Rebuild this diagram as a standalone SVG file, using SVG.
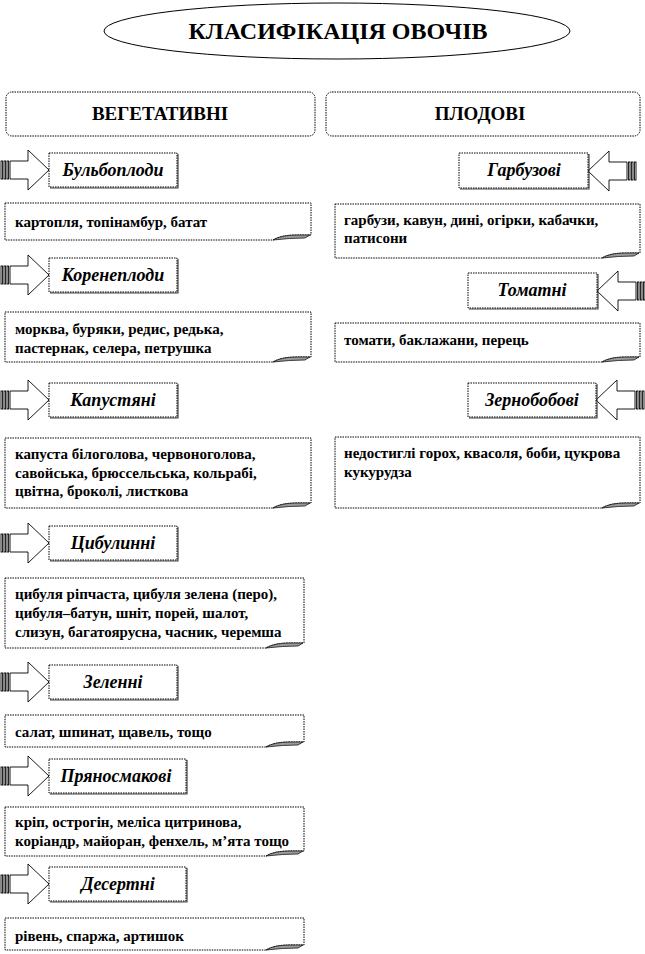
<svg xmlns="http://www.w3.org/2000/svg" xmlns:xlink="http://www.w3.org/1999/xlink" width="645" height="954" viewBox="0 0 645 954">
<style>
text{font-family:"Liberation Serif","Times New Roman",serif;fill:#000}
.title{font-size:24px;font-weight:bold}
.hdr{font-size:19px;font-weight:bold}
.lbl{font-size:18px;font-weight:bold;font-style:italic}
.nt{font-size:15px;font-weight:bold}
.box{fill:#fff;stroke:#000;stroke-width:1;stroke-dasharray:1.5 1}
.shd{fill:none;stroke:#444;stroke-width:1.2}
.note{fill:#fff;stroke:#000;stroke-width:1;stroke-dasharray:1.5 1}
.fold{fill:#9a9a9a;stroke:#000;stroke-width:0.7}
.arr{fill:#fff;stroke:#000;stroke-width:0.9}
</style>
<defs>
<g id="arrow">
<rect x="-48" y="-9" width="1.6" height="18" class="arr"/>
<rect x="-45" y="-9" width="1.6" height="18" class="arr"/>
<rect x="-42" y="-9" width="1.6" height="18" class="arr"/>
<path d="M-39,-9 H-21 V-20 L0,0 L-21,20 V9 H-39 Z" class="arr"/>
</g>
</defs>

<g id="title">
<ellipse cx="337" cy="31" rx="233" ry="28" fill="#fff" stroke="#000" stroke-width="1"/>
<text x="338" y="39" text-anchor="middle" class="title">КЛАСИФІКАЦІЯ ОВОЧІВ</text>
</g>

<g id="veg">
<rect x="6" y="92" width="309" height="44" rx="6" class="box"/>
<text x="160" y="120" text-anchor="middle" class="hdr">ВЕГЕТАТИВНІ</text>
</g>
<g id="plod">
<rect x="326" y="92" width="314" height="44" rx="6" class="box"/>
<text x="480" y="120" text-anchor="middle" class="hdr">ПЛОДОВІ</text>
</g>

<g id="connectors">
<use xlink:href="#arrow" href="#arrow" transform="translate(49,170)"/>
<use xlink:href="#arrow" href="#arrow" transform="translate(49,275)"/>
<use xlink:href="#arrow" href="#arrow" transform="translate(49,400)"/>
<use xlink:href="#arrow" href="#arrow" transform="translate(49,543)"/>
<use xlink:href="#arrow" href="#arrow" transform="translate(49,682)"/>
<use xlink:href="#arrow" href="#arrow" transform="translate(49,776)"/>
<use xlink:href="#arrow" href="#arrow" transform="translate(49,884)"/>
<use xlink:href="#arrow" href="#arrow" transform="translate(588,171) scale(-1,1)"/>
<use xlink:href="#arrow" href="#arrow" transform="translate(597,291) scale(-1,1)"/>
<use xlink:href="#arrow" href="#arrow" transform="translate(596,400) scale(-1,1)"/>
</g>

<g id="bulbo">
<path d="M178,154 V188 H50" class="shd"/>
<rect x="49" y="153" width="128" height="34" class="box"/>
<text x="113" y="176" text-anchor="middle" class="lbl">Бульбоплоди</text>
</g>
<g id="koren">
<path d="M178,259 V293 H50" class="shd"/>
<rect x="49" y="258" width="128" height="34" class="box"/>
<text x="113" y="281" text-anchor="middle" class="lbl">Коренеплоди</text>
</g>
<g id="kapust">
<path d="M178,384 V418 H50" class="shd"/>
<rect x="49" y="383" width="128" height="34" class="box"/>
<text x="113" y="406" text-anchor="middle" class="lbl">Капустяні</text>
</g>
<g id="tsybul">
<path d="M178,527 V561 H50" class="shd"/>
<rect x="49" y="526" width="128" height="34" class="box"/>
<text x="113" y="549" text-anchor="middle" class="lbl">Цибулинні</text>
</g>
<g id="zelen">
<path d="M178,666 V700 H50" class="shd"/>
<rect x="49" y="665" width="128" height="34" class="box"/>
<text x="113" y="688" text-anchor="middle" class="lbl">Зеленні</text>
</g>
<g id="pryano">
<path d="M187,760 V794 H50" class="shd"/>
<rect x="49" y="759" width="137" height="34" class="box"/>
<text x="116" y="782" text-anchor="middle" class="lbl">Пряносмакові</text>
</g>
<g id="desert">
<path d="M187,868 V902 H50" class="shd"/>
<rect x="49" y="867" width="137" height="34" class="box"/>
<text x="118" y="890" text-anchor="middle" class="lbl">Десертні</text>
</g>

<g id="garbuz">
<path d="M589,154 V189 H460" class="shd"/>
<rect x="459" y="153" width="129" height="35" class="box"/>
<text x="524" y="176" text-anchor="middle" class="lbl">Гарбузові</text>
</g>
<g id="tomat">
<path d="M598,274 V309 H469" class="shd"/>
<rect x="468" y="273" width="129" height="35" class="box"/>
<text x="532" y="296" text-anchor="middle" class="lbl">Томатні</text>
</g>
<g id="zerno">
<path d="M597,384 V418 H469" class="shd"/>
<rect x="468" y="383" width="128" height="34" class="box"/>
<text x="532" y="406" text-anchor="middle" class="lbl">Зернобобові</text>
</g>

<g id="n-bulbo">
<path d="M5,203 H311 V235 H297 Q281,235 273,240 H5 Z" class="note"/>
<path d="M273,240 Q281,235 297,235 H310 L305,238 Q290,238 273,240 Z" class="fold"/>
<text x="15" y="227" class="nt">картопля, топінамбур, батат</text>
</g>
<g id="n-koren">
<path d="M5,312 H311 V357 H297 Q281,357 273,362 H5 Z" class="note"/>
<path d="M273,362 Q281,357 297,357 H310 L305,360 Q290,360 273,362 Z" class="fold"/>
<text x="15" y="334" class="nt">морква, буряки, редис, редька,</text>
<text x="15" y="353" class="nt">пастернак, селера, петрушка</text>
</g>
<g id="n-kapust">
<path d="M5,438 H311 V503 H297 Q281,503 273,508 H5 Z" class="note"/>
<path d="M273,508 Q281,503 297,503 H310 L305,506 Q290,506 273,508 Z" class="fold"/>
<text x="15" y="459" class="nt">капуста білоголова, червоноголова,</text>
<text x="15" y="478" class="nt">савойська, брюссельська, кольрабі,</text>
<text x="15" y="496" class="nt">цвітна, броколі,  листкова</text>
</g>
<g id="n-tsybul">
<path d="M5,578 H304 V643 H290 Q274,643 266,648 H5 Z" class="note"/>
<path d="M266,648 Q274,643 290,643 H303 L298,646 Q283,646 266,648 Z" class="fold"/>
<text x="15" y="599" class="nt">цибуля ріпчаста, цибуля зелена (перо),</text>
<text x="15" y="618" class="nt">цибуля–батун, шніт, порей, шалот,</text>
<text x="15" y="637" class="nt">слизун, багатоярусна, часник, черемша</text>
</g>
<g id="n-zelen">
<path d="M5,715 H304 V742 H290 Q274,742 266,747 H5 Z" class="note"/>
<path d="M266,747 Q274,742 290,742 H303 L298,745 Q283,745 266,747 Z" class="fold"/>
<text x="15" y="737" class="nt">салат, шпинат, щавель, тощо</text>
</g>
<g id="n-pryano">
<path d="M5,807 H304 V851 H290 Q274,851 266,856 H5 Z" class="note"/>
<path d="M266,856 Q274,851 290,851 H303 L298,854 Q283,854 266,856 Z" class="fold"/>
<text x="15" y="827" class="nt">кріп, острогін, меліса цитринова,</text>
<text x="15" y="846" class="nt">коріандр, майоран, фенхель, м’ята тощо</text>
</g>
<g id="n-desert">
<path d="M5,918 H304 V945 H290 Q274,945 266,950 H5 Z" class="note"/>
<path d="M266,950 Q274,945 290,945 H303 L298,948 Q283,948 266,950 Z" class="fold"/>
<text x="15" y="941" class="nt">рівень, спаржа, артишок</text>
</g>

<g id="n-garbuz">
<path d="M335,204 H640 V253 H626 Q610,253 602,258 H335 Z" class="note"/>
<path d="M602,258 Q610,253 626,253 H639 L634,256 Q619,256 602,258 Z" class="fold"/>
<text x="344" y="225" class="nt">гарбузи, кавун, дині, огірки,  кабачки,</text>
<text x="344" y="243" class="nt">патисони</text>
</g>
<g id="n-tomat">
<path d="M335,323 H640 V357 H626 Q610,357 602,362 H335 Z" class="note"/>
<path d="M602,362 Q610,357 626,357 H639 L634,360 Q619,360 602,362 Z" class="fold"/>
<text x="344" y="345" class="nt">томати, баклажани, перець</text>
</g>
<g id="n-zerno">
<path d="M335,437 H640 V503 H626 Q610,503 602,508 H335 Z" class="note"/>
<path d="M602,508 Q610,503 626,503 H639 L634,506 Q619,506 602,508 Z" class="fold"/>
<text x="344" y="458" class="nt">недостиглі горох, квасоля, боби, цукрова</text>
<text x="344" y="477" class="nt">кукурудза</text>
</g>
</svg>
